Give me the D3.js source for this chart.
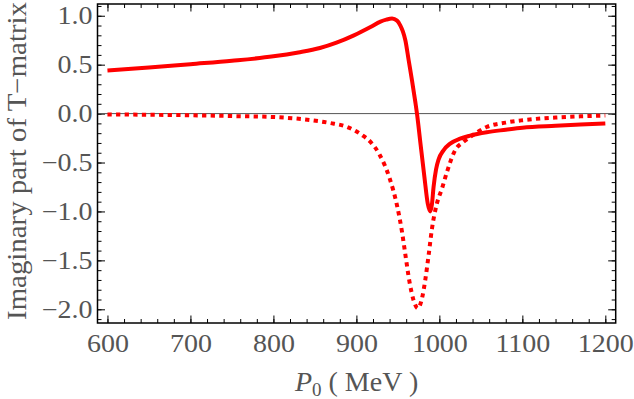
<!DOCTYPE html>
<meta charset="utf-8">
<style>
body { margin: 0; background: #fff; }
svg { display: block; }
.tick text { font-family: "Liberation Serif", serif; fill: #555; }
.label { font-family: "Liberation Serif", serif; fill: #555; }
</style>
<body>
<svg width="634" height="399"></svg>
<script src="https://d3js.org/d3.v7.min.js"></script>
<script>
// solid curve
var p0Solid = [600, 650, 700, 750, 800, 830, 856, 876, 897, 917, 929, 936, 943, 949, 953, 956, 959, 963, 967, 971, 973, 977, 982, 986, 989, 991, 993, 996, 999, 1005, 1013, 1025, 1037, 1057, 1080, 1100, 1140, 1170, 1200];
var imSolid = [0.44, 0.47, 0.505, 0.54, 0.585, 0.625, 0.67, 0.725, 0.80, 0.885, 0.94, 0.96, 0.971, 0.95, 0.90, 0.84, 0.75, 0.545, 0.34, 0.12, 0.0, -0.29, -0.65, -0.92, -1.0, -0.93, -0.75, -0.57, -0.47, -0.375, -0.307, -0.256, -0.225, -0.19, -0.165, -0.145, -0.125, -0.112, -0.10];
// dotted curve
var p0Dotted = [600, 650, 700, 750, 800, 836, 868, 889, 907, 917, 928, 940, 949, 955, 959, 964, 969, 974, 979, 983, 987, 991, 997, 1003, 1009, 1019, 1029, 1037, 1057, 1080, 1100, 1140, 1170, 1200];
var imDotted = [-0.008, -0.012, -0.017, -0.025, -0.035, -0.058, -0.096, -0.137, -0.22, -0.29, -0.42, -0.66, -0.94, -1.21, -1.44, -1.72, -1.91, -1.99, -1.89, -1.70, -1.45, -1.18, -0.92, -0.77, -0.60, -0.375, -0.29, -0.24, -0.137, -0.092, -0.068, -0.04, -0.028, -0.02];

var xMajor = [600, 700, 800, 900, 1000, 1100, 1200];
var xMinor = d3.range(600, 1201, 20);
var yMajor = [-2.0, -1.5, -1.0, -0.5, 0.0, 0.5, 1.0];
var yMinor = d3.range(-21, 12).map(function(d) { return d / 10; });

var svg = d3.select("svg"),
    margin = {top: 4, right: 18.3, bottom: 76, left: 97.5},
    width = 634 - margin.left - margin.right,
    height = 399 - margin.top - margin.bottom,
    g = svg.append("g").attr("transform", "translate(" + margin.left + "," + margin.top + ")");

var x = d3.scaleLinear().domain([588, 1212.5]).range([0, width]),
    y = d3.scaleLinear().domain([-2.14, 1.12]).range([height, 0]);

var fmt = d3.format(".1f");
var big = 7.5, small = 4, stretch = 1.12;

function styleAxis(sel) {
  sel.select(".domain").remove();
  sel.selectAll(".tick line").attr("stroke", "#000").attr("stroke-width", 1);
}

// minor ticks (all four sides)
g.append("g").attr("transform", "translate(0," + height + ")")
  .call(d3.axisBottom(x).tickValues(xMinor).tickSize(-small).tickFormat(""))
  .call(styleAxis);
g.append("g")
  .call(d3.axisTop(x).tickValues(xMinor).tickSize(-small).tickFormat(""))
  .call(styleAxis);
g.append("g")
  .call(d3.axisLeft(y).tickValues(yMinor).tickSize(-small).tickFormat(""))
  .call(styleAxis);
g.append("g").attr("transform", "translate(" + width + ",0)")
  .call(d3.axisRight(y).tickValues(yMinor).tickSize(-small).tickFormat(""))
  .call(styleAxis);

// major ticks with labels
g.append("g").attr("transform", "translate(0," + height + ")")
  .call(d3.axisBottom(x).tickValues(xMajor).tickSize(-big).tickFormat(d3.format("d")))
  .call(styleAxis)
  .call(function(a) {
    a.selectAll(".tick text").attr("y", 29).attr("dy", null)
      .attr("transform", "scale(" + stretch + ",1)")
      .style("font-size", "25px").attr("text-anchor", "middle");
  });
g.append("g")
  .call(d3.axisTop(x).tickValues(xMajor).tickSize(-big).tickFormat(""))
  .call(styleAxis);
g.append("g")
  .call(d3.axisLeft(y).tickValues(yMajor).tickSize(-big).tickFormat(fmt))
  .call(styleAxis)
  .call(function(a) {
    a.selectAll(".tick text").attr("x", -5 / stretch).attr("dy", "0.33em")
      .attr("transform", "scale(" + stretch + ",1)")
      .style("font-size", "25px");
  });
g.append("g").attr("transform", "translate(" + width + ",0)")
  .call(d3.axisRight(y).tickValues(yMajor).tickSize(-big).tickFormat(""))
  .call(styleAxis);

// zero line
g.append("line")
  .attr("x1", 0).attr("x2", width)
  .attr("y1", y(0)).attr("y2", y(0))
  .attr("stroke", "#555").attr("stroke-width", 1);

var line = d3.line()
  .curve(d3.curveMonotoneX)
  .x(function(d) { return x(d[0]); })
  .y(function(d) { return y(d[1]); });

svg.append("clipPath").attr("id", "clip")
  .append("rect").attr("width", width).attr("height", height);

g.append("path")
  .datum(d3.zip(p0Solid, imSolid))
  .attr("clip-path", "url(#clip)")
  .attr("fill", "none")
  .attr("stroke", "#ff0000")
  .attr("stroke-width", 4)
  .attr("stroke-linejoin", "round")
  .attr("d", line);

g.append("path")
  .datum(d3.zip(p0Dotted, imDotted))
  .attr("clip-path", "url(#clip)")
  .attr("fill", "none")
  .attr("stroke", "#ff0000")
  .attr("stroke-width", 4)
  .attr("stroke-dasharray", "4.3,4.3")
  .attr("d", line);

// frame
g.append("rect")
  .attr("width", width).attr("height", height)
  .attr("fill", "none").attr("stroke", "#000").attr("stroke-width", 1.5);

// axis labels
var xl = svg.append("text").attr("class", "label")
  .attr("x", margin.left + width / 2).attr("y", 391)
  .attr("text-anchor", "middle")
  .style("font-size", "28px");
xl.append("tspan").style("font-style", "italic").text("P");
xl.append("tspan").attr("dy", 5).style("font-size", "19px").text("0");
xl.append("tspan").attr("dy", -5).text(" ( MeV )");

svg.append("text").attr("class", "label")
  .attr("transform", "translate(26,161) rotate(-90) scale(1.09,1)")
  .attr("text-anchor", "middle")
  .style("font-size", "26.5px")
  .text("Imaginary part of T\u2212matrix");
</script>
</body>
